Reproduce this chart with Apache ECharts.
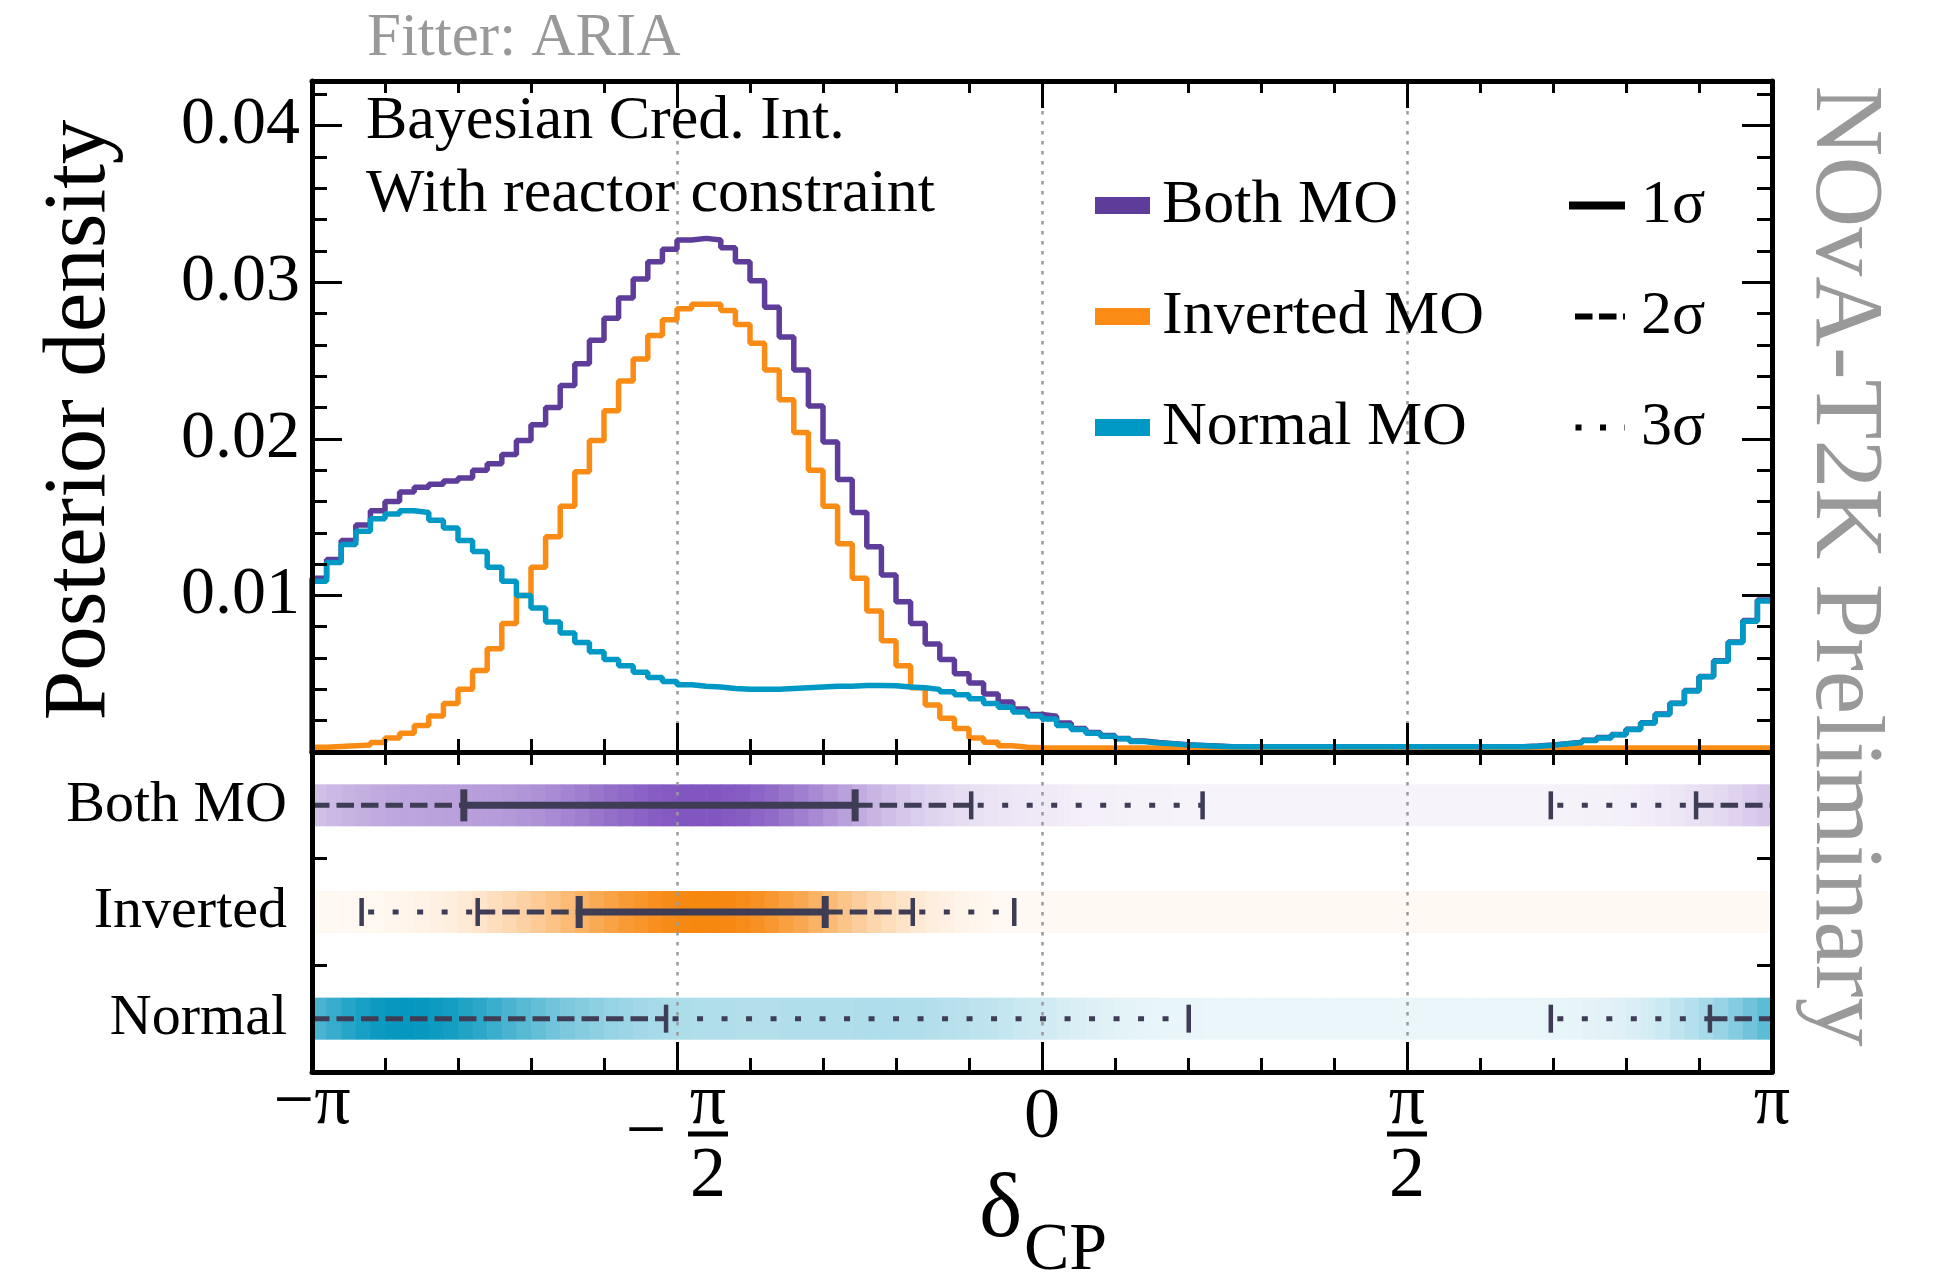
<!DOCTYPE html>
<html><head><meta charset="utf-8">
<script src="https://cdn.jsdelivr.net/npm/echarts@6/dist/echarts.min.js"></script>
<style>html,body{margin:0;padding:0;background:#fff;}#c{width:1957px;height:1276px;}</style>
</head><body><div id="c"></div>
<script>
// ---------------- data (100 bins over [-pi, pi]; x in units of pi) ----------------
const NBINS = 100;
const bothMO = [0.0111,0.0123,0.0135,0.0145,0.0154,0.0160,0.0166,0.0169,0.0171,0.0173,
 0.0175,0.0180,0.0184,0.0190,0.0199,0.0209,0.0220,0.0234,0.0248,0.0263,
 0.0277,0.0290,0.0302,0.0313,0.0321,0.0327,0.0328,0.0327,0.0322,0.0313,
 0.0301,0.0284,0.0265,0.0244,0.0221,0.0198,0.0174,0.0153,0.0131,0.0113,
 0.0096,0.0082,0.0069,0.0059,0.0050,0.0044,0.0037,0.0032,0.00275,0.0024,
 0.00228,0.00185,0.0015,0.00125,0.00105,0.00087,0.0007,0.0006,0.00053,0.00046,
 0.00042,0.00038,0.00034,0.00034,0.00034,0.00034,0.00034,0.00034,0.00034,0.00034,
 0.00034,0.00034,0.00034,0.00034,0.00034,0.00034,0.00034,0.00034,0.00034,0.00034,
 0.00034,0.00034,0.00034,0.00038,0.00044,0.00053,0.00062,0.00075,0.00092,0.00112,
 0.00145,0.00187,0.00242,0.00312,0.00392,0.00482,0.00582,0.00702,0.0084,0.0097];
const invertedMO = [0.0003,0.00035,0.0004,0.00045,0.0006,0.0009,0.0012,0.0017,0.0023,0.0031,
 0.0040,0.0052,0.0066,0.0082,0.0100,0.0118,0.01375,0.0157,0.0179,0.0199,
 0.0218,0.0237,0.0251,0.0266,0.0276,0.0283,0.0286,0.0286,0.0282,0.0273,
 0.0261,0.0244,0.0225,0.0204,0.0180,0.0157,0.0133,0.0111,0.0090,0.0071,
 0.0055,0.0041,0.0030,0.00215,0.0015,0.0009,0.00063,0.0004,0.0003,0.00027,
 0.00025,0.00025,0.00025,0.00025,0.00025,0.00025,0.00025,0.00025,0.00025,0.00025,
 0.00025,0.00025,0.00025,0.00025,0.00025,0.00025,0.00025,0.00025,0.00025,0.00025,
 0.00025,0.00025,0.00025,0.00025,0.00025,0.00025,0.00025,0.00025,0.00025,0.00025,
 0.00025,0.00025,0.00025,0.00025,0.00025,0.00025,0.00025,0.00025,0.00025,0.00025,
 0.00025,0.00025,0.00025,0.00025,0.00025,0.00025,0.00025,0.00025,0.00025,0.00025];
const normalMO = [0.0109,0.0121,0.01325,0.0141,0.0149,0.0152,0.0154,0.0153,0.0148,0.0143,
 0.0135,0.0128,0.0118,0.0109,0.0100,0.0092,0.0083,0.0076,0.0070,0.0064,
 0.0059,0.0055,0.0051,0.00475,0.0045,0.0043,0.0042,0.00415,0.00405,0.0040,
 0.0040,0.0040,0.00405,0.0041,0.00415,0.0042,0.0042,0.00425,0.00425,0.00423,
 0.00415,0.0041,0.0040,0.00385,0.00365,0.0034,0.0031,0.00285,0.00255,0.0023,
 0.0021,0.0017,0.00143,0.0012,0.0010,0.00084,0.00067,0.00058,0.00052,0.00045,
 0.00041,0.00037,0.00033,0.00033,0.00033,0.00033,0.00033,0.00033,0.00033,0.00033,
 0.00033,0.00033,0.00033,0.00033,0.00033,0.00033,0.00033,0.00033,0.00033,0.00033,
 0.00033,0.00033,0.00033,0.00037,0.00043,0.00052,0.0006,0.00073,0.0009,0.0011,
 0.00143,0.00185,0.0024,0.0031,0.0039,0.0048,0.0058,0.0070,0.00835,0.00965];

const rowNames = ['Normal', 'Inverted', 'Both MO'];
const seriesNames = ['Both MO', 'Inverted MO', 'Normal MO'];
const sigmaNames = ['1σ', '2σ', '3σ'];
const yTickValues = [0.01, 0.02, 0.03, 0.04];

// credible intervals, in units of pi
const both1s = [[-0.792, -0.256]];
const both2s = [[-1, -0.097], [0.896, 1]];
const both3s = [[-1, 0.220], [0.697, 1]];
const inv1s = [[-0.634, -0.297]];
const inv2s = [[-0.773, -0.177]];
const inv3s = [[-0.932, -0.038]];
const norm1s = [];
const norm2s = [[-1, -0.515], [0.915, 1]];
const norm3s = [[-1, 0.201], [0.697, 1]];

// ---------------- styling ----------------
const F = 'Liberation Serif';
const C_BOTH = '#5e3c99', C_INV = '#fa8c16', C_NORM = '#0098c4';
const BAND_LIGHT = ['#f0f8fb', '#fffaf5', '#f8f5fb'];
const BAND_PEAK = ['#0497bf', '#f7870f', '#8256c1'];
const BAND_VALUES = [normalMO, invertedMO, bothMO];
const INT_COLOR = '#3f3c56';

function hex2rgb(h){return [parseInt(h.substr(1,2),16),parseInt(h.substr(3,2),16),parseInt(h.substr(5,2),16)];}
function mix(a,b,t){const A=hex2rgb(a),B=hex2rgb(b);return 'rgb('+A.map((v,i)=>Math.round(v+(B[i]-v)*t)).join(',')+')';}
const edge = i => -1 + 2 * i / NBINS;

function stepData(vals){
  const d = [[-1, 0]];
  vals.forEach((v, i) => d.push([edge(i), v]));
  d.push([1, vals[vals.length - 1]]);
  return d;
}

// band cells
const bandData = [];
BAND_VALUES.forEach((vals, row) => {
  const mx = Math.max.apply(null, vals);
  vals.forEach((v, i) => bandData.push([edge(i), edge(i + 1), row, v / mx]));
});

// interval segments + caps
function subtract(ints, holes){
  let res = ints.map(a => a.slice());
  holes.forEach(h => {
    const nx = [];
    res.forEach(([a, b]) => {
      if (h[1] <= a || h[0] >= b) { nx.push([a, b]); return; }
      if (h[0] > a) nx.push([a, h[0]]);
      if (h[1] < b) nx.push([h[1], b]);
    });
    res = nx;
  });
  return res;
}
const rowsIntervals = [
  {row: 2, L: [both1s, both2s, both3s]},
  {row: 1, L: [inv1s, inv2s, inv3s]},
  {row: 0, L: [norm1s, norm2s, norm3s]}
];
const segData = [], capData = [];
rowsIntervals.forEach(({row, L}) => {
  const pieces = [L[0], subtract(L[1], L[0]), subtract(L[2], L[1])];
  pieces.forEach((list, lvl) => list.forEach(([a, b]) => segData.push([a, b, row, lvl, 0])));
  L.forEach((list, lvl) => list.forEach(([a, b]) => {
    [a, b].forEach(e => { if (Math.abs(e) < 0.999) capData.push([e, e, row, lvl, 1]); });
  }));
});
const intervalData = segData.concat(capData);

const LW = [7, 5, 5];
const DASH = [null, [17.5, 7], [6, 18.5]];
const DASH_OFF = [0, 0, 18];
const CAP_H = [32, 28, 28];
const CAP_W = [7, 4.5, 4.5];

// ---------------- axes ----------------
const frameLine = {show: true, onZero: false, lineStyle: {color: '#000', width: 5}};
const noLine = {show: false, onZero: false};
function xAxisDef(grid, pos, opts){
  return Object.assign({
    type: 'value', gridIndex: grid, position: pos, min: -1, max: 1, interval: 0.5,
    axisLine: frameLine, splitLine: {show: false}, axisLabel: {show: false}, z: 5
  }, opts);
}
function xLabelFmt(v){
  if (Math.abs(v + 1) < 1e-6) return '{a|−π}';
  if (Math.abs(v - 1) < 1e-6) return '{a|π}';
  if (Math.abs(v) < 1e-6) return '{z|0}';
  if (Math.abs(v + 0.5) < 1e-6) return '{e1| }{g1| }{c1|π}\n{e2|−}{g2| }{bar| }\n{e3| }{g3| }{c3|2}';
  if (Math.abs(v - 0.5) < 1e-6) return '{c1|π}\n{bar| }\n{c3|2}';
  return '';
}
const L1 = 49, L2 = 10, L3 = 77;
const xRich = {
  a: {fontFamily: F, fontSize: 72, lineHeight: L1, color: '#000'},
  z: {fontFamily: F, fontSize: 72, lineHeight: 77, color: '#000'},
  e1: {width: 40, lineHeight: L1}, g1: {width: 22, lineHeight: L1},
  c1: {width: 40, align: 'center', fontFamily: F, fontSize: 72, lineHeight: L1, color: '#000'},
  e2: {width: 40, align: 'center', fontFamily: F, fontSize: 72, lineHeight: L2, color: '#000'},
  g2: {width: 22, lineHeight: L2},
  bar: {width: 40, height: 5, lineHeight: L2, backgroundColor: '#000'},
  e3: {width: 40, lineHeight: L3}, g3: {width: 22, lineHeight: L3},
  c3: {width: 40, align: 'center', fontFamily: F, fontSize: 72, lineHeight: L3, color: '#000'}
};
const gridLineStyle = {show: true, lineStyle: {color: '#9a9a9a', width: 2.5, type: [3.5, 6.5]}};

const xAxes = [
  xAxisDef(0, 'bottom', {axisTick: {show: true, inside: true, length: 29, lineStyle: {width: 3, color: '#000'}},
    minorTick: {show: true, splitNumber: 5, length: 13, lineStyle: {width: 3, color: '#000'}}}),
  xAxisDef(0, 'top', {axisTick: {show: true, inside: true, length: 27, lineStyle: {width: 3, color: '#000'}},
    minorTick: {show: true, splitNumber: 5, length: 12, lineStyle: {width: 3, color: '#000'}}}),
  xAxisDef(0, 'top', {axisLine: noLine, axisTick: {show: false}, splitLine: gridLineStyle, z: 1}),
  xAxisDef(1, 'bottom', {axisTick: {show: true, inside: true, length: 30, lineStyle: {width: 3, color: '#000'}},
    minorTick: {show: true, splitNumber: 5, length: 14, lineStyle: {width: 3, color: '#000'}},
    axisLabel: {show: true, margin: 8, formatter: xLabelFmt, rich: xRich, fontFamily: F, fontSize: 72, color: '#000'}}),
  xAxisDef(1, 'top', {axisTick: {show: true, inside: true, length: 13, lineStyle: {width: 3, color: '#000'}},
    minorTick: {show: true, splitNumber: 5, length: 13, lineStyle: {width: 3, color: '#000'}}}),
  xAxisDef(1, 'top', {axisLine: noLine, axisTick: {show: false}, splitLine: gridLineStyle, z: 2})
];

const YMAX = 0.04285;
function yAxisDef(pos, major){
  return {
    type: 'value', gridIndex: 0, position: pos, min: 0, max: YMAX, interval: major ? 0.01 : 0.002,
    axisLine: major ? frameLine : noLine,
    axisTick: {show: true, inside: true, length: major ? 30 : 15, lineStyle: {width: 3, color: '#000'}},
    splitLine: {show: false},
    axisLabel: (major && pos === 'left') ? {
      show: true, margin: 12, fontFamily: F, fontSize: 68, color: '#000', padding: [9, 0, 0, 0],
      formatter: v => { const k = yTickValues.find(t => Math.abs(t - v) < 1e-9); return k ? k.toFixed(2) : ''; }
    } : {show: false},
    z: 5
  };
}
const yAxes = [
  yAxisDef('left', true), yAxisDef('left', false), yAxisDef('right', true), yAxisDef('right', false),
  {type: 'category', gridIndex: 1, position: 'left', data: rowNames, axisLine: frameLine,
   axisTick: {show: true, inside: true, length: 15, lineStyle: {width: 3, color: '#000'}},
   axisLabel: {show: true, margin: 25, fontFamily: F, fontSize: 58, color: '#000', padding: [10, 0, 0, 0]},
   splitLine: {show: false}, z: 5},
  {type: 'category', gridIndex: 1, position: 'right', data: rowNames, axisLine: frameLine,
   axisTick: {show: true, inside: true, length: 15, lineStyle: {width: 3, color: '#000'}},
   axisLabel: {show: false}, splitLine: {show: false}, z: 5}
];

// ---------------- series ----------------
function histSeries(name, vals, color){
  return {name, type: 'line', xAxisIndex: 0, yAxisIndex: 0, step: 'end', symbol: 'none', color,
    lineStyle: {color, width: 5.5}, data: stepData(vals), z: 3, clip: true};
}
const series = [
  histSeries('Both MO', bothMO, C_BOTH),
  histSeries('Inverted MO', invertedMO, C_INV),
  histSeries('Normal MO', normalMO, C_NORM),
  {name: '1σ', type: 'line', symbol: 'none', color: '#000', lineStyle: {width: 8, type: 'solid'}, data: []},
  {name: '2σ', type: 'line', symbol: 'none', color: '#000', lineStyle: {width: 6, type: [17.5, 6.5]}, data: []},
  {name: '3σ', type: 'line', symbol: 'none', color: '#000', lineStyle: {width: 6, type: [6, 18.5]}, data: []},
  {type: 'custom', name: 'bands', xAxisIndex: 3, yAxisIndex: 4, z: 1, encode: {x: [0, 1], y: 2},
   data: bandData,
   renderItem: (params, api) => {
     const row = api.value(2), t = api.value(3);
     const p0 = api.coord([api.value(0), row]), p1 = api.coord([api.value(1), row]);
     const h = api.size([0, 1])[1] * 0.394;
     return {type: 'rect', shape: {x: p0[0], y: p0[1] - h / 2, width: p1[0] - p0[0] + 0.6, height: h},
       style: {fill: mix(BAND_LIGHT[row], BAND_PEAK[row], t)}};
   }},
  {type: 'custom', name: 'intervals', xAxisIndex: 3, yAxisIndex: 4, z: 3, encode: {x: [0, 1], y: 2},
   data: intervalData,
   renderItem: (params, api) => {
     const row = api.value(2), lvl = api.value(3), kind = api.value(4);
     const p0 = api.coord([api.value(0), row]);
     if (kind === 1) {
       const h = CAP_H[lvl];
       return {type: 'line', shape: {x1: p0[0], y1: p0[1] - h / 2, x2: p0[0], y2: p0[1] + h / 2},
         style: {stroke: INT_COLOR, lineWidth: CAP_W[lvl]}};
     }
     const p1 = api.coord([api.value(1), row]);
     const st = {stroke: INT_COLOR, lineWidth: LW[lvl], lineCap: 'butt'};
     if (DASH[lvl]) { st.lineDash = DASH[lvl]; st.lineDashOffset = DASH_OFF[lvl]; }
     return {type: 'line', shape: {x1: p0[0], y1: p0[1], x2: p1[0], y2: p1[1]}, style: st};
   }}
];

const legendText = {fontFamily: F, fontSize: 62, lineHeight: 62, color: '#000'};
const hiddenSymbol = {color: 'rgba(0,0,0,0)', borderColor: 'rgba(0,0,0,0)', borderWidth: 0, opacity: 0};
const option = {
  animation: false,
  backgroundColor: '#fff',
  textStyle: {fontFamily: F},
  grid: [
    {left: 312, top: 81, width: 1460, height: 671, show: false},
    {left: 312, top: 752, width: 1460, height: 320, show: false}
  ],
  xAxis: xAxes,
  yAxis: yAxes,
  legend: [
    {data: seriesNames, orient: 'vertical', left: 1095, top: 166, padding: 0, itemWidth: 55, itemHeight: 17,
     itemGap: 32, icon: 'rect', selectedMode: false, itemStyle: {borderWidth: 0},
     textStyle: Object.assign({padding: [17, 0, 0, 7]}, legendText)},
    {data: sigmaNames.map((n, i) => ({name: n, lineStyle: {width: i === 0 ? 8 : 6}})),
     orient: 'vertical', left: 1565, top: 166, padding: 0, itemWidth: 56, itemHeight: 17,
     itemGap: 32, selectedMode: false, itemStyle: hiddenSymbol,
     textStyle: Object.assign({padding: [17, 0, 0, 11]}, legendText)}
  ],
  graphic: [
    {type: 'text', x: 367, y: 38.5, style: {text: 'Fitter: ARIA', font: '61px "Liberation Serif"', fill: '#999', align: 'left', verticalAlign: 'middle'}},
    {type: 'text', x: 366, y: 122, z: 10, style: {text: 'Bayesian Cred. Int.', font: '62px "Liberation Serif"', fill: '#000', align: 'left', verticalAlign: 'middle'}},
    {type: 'text', x: 366, y: 195, z: 10, style: {text: 'With reactor constraint', font: '62px "Liberation Serif"', fill: '#000', align: 'left', verticalAlign: 'middle'}},
    {type: 'text', x: 81, y: 420, rotation: Math.PI / 2, style: {text: 'Posterior density', font: '89px "Liberation Serif"', fill: '#000', align: 'center', verticalAlign: 'middle'}},
    {type: 'text', x: 979, y: 1212, style: {text: 'δ', font: '92px "Liberation Serif"', fill: '#000', align: 'left', verticalAlign: 'middle'}},
    {type: 'text', x: 1024, y: 1251, style: {text: 'CP', font: '68px "Liberation Serif"', fill: '#000', align: 'left', verticalAlign: 'middle'}},
    {type: 'text', x: 1843, y: 566, rotation: -Math.PI / 2, style: {text: 'NOvA-T2K Preliminary', font: '98px "Liberation Serif"', fill: '#999', align: 'center', verticalAlign: 'middle'}}
  ],
  series
};
const chart = echarts.init(document.getElementById('c'), null, {renderer: 'canvas', width: 1957, height: 1276});
chart.setOption(option);
</script></body></html>
